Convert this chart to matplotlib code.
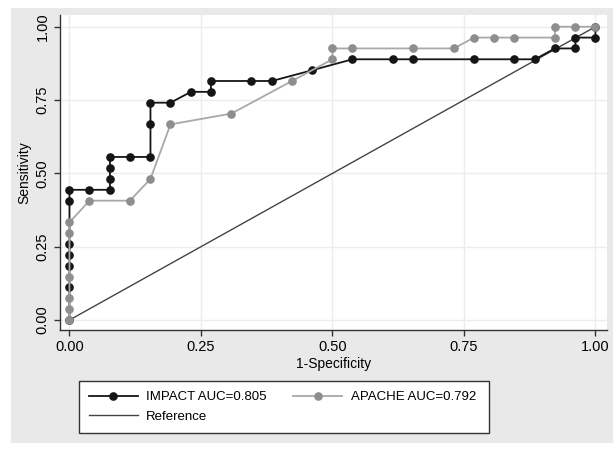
import matplotlib.pyplot as plt
from matplotlib.patches import Rectangle

plt.rcParams['font.family'] = ['Liberation Sans', 'DejaVu Sans']

# ROC points
impact_x = [0, 0, 0, 0, 0, 0, 0, .038, .077, .077, .077, .077, .115, .154, .154, .154,
            .192, .231, .269, .269, .346, .385, .462, .538, .615, .654, .769, .846,
            .885, .923, .962, .962, 1, 1]
impact_y = [0, .111, .185, .222, .259, .407, .444, .444, .444, .481, .519, .556, .556,
            .556, .667, .741, .741, .778, .778, .815, .815, .815, .852, .889, .889,
            .889, .889, .889, .889, .926, .926, .963, .963, 1]

apache_x = [0, 0, 0, 0, 0, 0, .038, .115, .154, .192, .308, .423, .5, .5, .538, .654,
            .731, .769, .808, .846, .923, .923, .962, 1]
apache_y = [0, .037, .074, .148, .296, .333, .407, .407, .481, .667, .704, .815, .889,
            .926, .926, .926, .926, .963, .963, .963, .963, 1, 1, 1]

ref_x = [0, 1]
ref_y = [0, 1]

ticks = [0, 0.25, 0.5, 0.75, 1.0]
tick_labels = ['0.00', '0.25', '0.50', '0.75', '1.00']

W, H = 613, 450
fig = plt.figure(figsize=(W / 100, H / 100), dpi=100, facecolor='white')
# stata style graph region
fig.patches.append(Rectangle((11 / W, 1 - 443 / H), 1, (443 - 8) / H,
                             transform=fig.transFigure, facecolor='#e9e9e9',
                             edgecolor='none', zorder=-5))

ax = fig.add_axes([60 / W, 1 - 330 / H, (607 - 60) / W, (330 - 15) / H])
ax.set_facecolor('white')

ref_line, = ax.plot(ref_x, ref_y, color='#444444', lw=1.0, zorder=2)
l1, = ax.plot(impact_x, impact_y, color='#151515', lw=1.3, marker='o', ms=5.2, zorder=3)
l2, = ax.plot(apache_x, apache_y, color='#a8a8a8', lw=1.3, marker='o', ms=5.2,
              markerfacecolor='#8e8e8e', markeredgecolor='#8e8e8e', zorder=4)

ax.set_xlim(-0.018, 1.022)
ax.set_ylim(-0.034, 1.04)
ax.set_xticks(ticks)
ax.set_xticklabels(tick_labels, fontsize=10.5)
ax.set_yticks(ticks)
ax.set_yticklabels(tick_labels, fontsize=10.5, rotation=90, va='center')
ax.grid(True, color='#ececec', lw=1.0)
ax.set_axisbelow(True)
for s in ['top', 'right']:
    ax.spines[s].set_visible(False)
for s in ['left', 'bottom']:
    ax.spines[s].set_color('#333333')
    ax.spines[s].set_linewidth(1.0)
ax.tick_params(length=4, width=1, color='#333333', pad=3.5)
ax.set_xlabel('1-Specificity', fontsize=10, labelpad=2)
ax.set_ylabel('Sensitivity', fontsize=10, labelpad=3)

# legend is filled column by column
leg = fig.legend([l1, ref_line, l2], ['IMPACT AUC=0.805', 'Reference', 'APACHE AUC=0.792 '],
                 ncol=2, loc='upper left', bbox_to_anchor=(79 / W, 1 - 381 / H),
                 fontsize=9.5, numpoints=1, handlelength=3.7, handletextpad=0.65,
                 columnspacing=2.0, fancybox=False, framealpha=1, borderaxespad=0,
                 borderpad=0.75, labelspacing=0.55)
leg.get_frame().set_edgecolor('#333333')
leg.get_frame().set_linewidth(1.0)

fig.savefig('out.png', dpi=100, facecolor='white')
